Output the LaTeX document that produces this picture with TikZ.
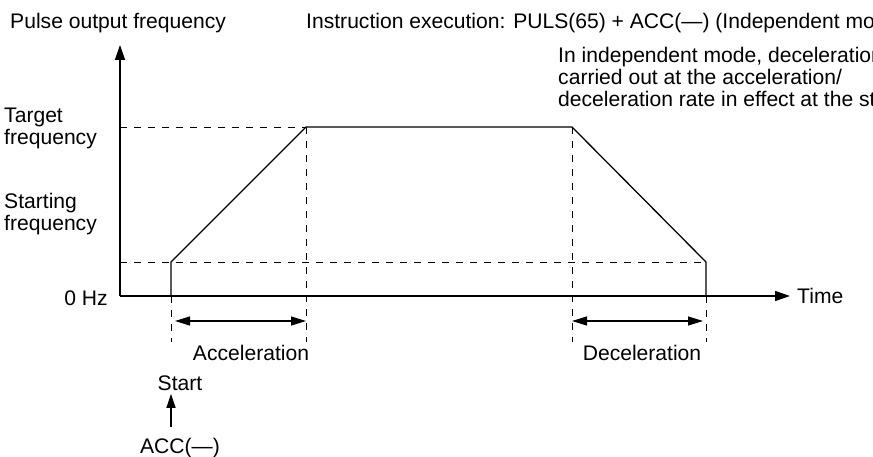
\documentclass[tikz,border=0pt]{standalone}
\usepackage{fontspec}
\setmainfont{Liberation Sans}
\usetikzlibrary{arrows.meta, positioning}

\begin{document}
\begin{tikzpicture}[
    x=0.03cm, y=-0.03cm,
    lbl/.style={font=\fontsize{18}{18.7}\selectfont, inner sep=0pt, align=left},
    axis/.style={-{Triangle[length=0.45cm, width=0.3cm]}, line width=1.3pt},
    prof/.style={line width=1.1pt},
    guide/.style={dash pattern=on 0.22cm off 0.2cm, line width=0.6pt},
    span/.style={{Triangle[length=0.45cm, width=0.27cm]}-{Triangle[length=0.45cm, width=0.27cm]}, line width=1.1pt},
    arr/.style={-{Triangle[length=0.42cm, width=0.27cm]}, line width=1.1pt}
  ]
  \useasboundingbox (0,0) rectangle (873,457);
  \clip (0,0) rectangle (873,457);

  % axes
  \coordinate (o) at (120,296);
  \coordinate (ytop) at (120,45);
  \coordinate (xend) at (790,296);
  \draw[axis] (o) -- (ytop);
  \draw[axis] (o) -- (xend);

  % speed profile
  \coordinate (p0) at (171,296);
  \coordinate (p1) at (171,262);
  \coordinate (p2) at (306,127);
  \coordinate (p3) at (572,127);
  \coordinate (p4) at (706,262);
  \coordinate (p5) at (706,296);
  \draw[prof] (p0) -- (p1) -- (p2) -- (p3) -- (p4) -- (p5);

  % guide lines
  \draw[guide] (o |- p2) -- (p2);
  \draw[guide] (o |- p1) -- (p4 |- p1);
  \coordinate (g0) at (171,342);
  \coordinate (g1) at (306,342);
  \coordinate (g2) at (572,342);
  \coordinate (g3) at (706,342);
  \draw[guide] (p0) -- (g0);
  \draw[guide] (p2) -- (g1);
  \draw[guide] (p3) -- (g2);
  \draw[guide] (p5) -- (g3);

  % spans
  \coordinate (a0) at (175,321);
  \coordinate (a1) at (306,321);
  \coordinate (d0) at (572,321);
  \coordinate (d1) at (703,321);
  \draw[span] (a0) -- (a1);
  \draw[span] (d0) -- (d1);

  % labels
  \node[lbl, anchor=base west] (yname) at (10,29) {Pulse output frequency};
  \node[lbl, anchor=base west] (instr) at (306,29) {Instruction execution: PULS(65) + ACC(—) (Independent mode)};
  \node[lbl, anchor=north west] (note) at (558,47) {In independent mode, deceleration is\\carried out at the acceleration/\\deceleration rate in effect at the start.};
  \node[lbl, anchor=north west] (target) at (4,108) {Target\\frequency};
  \node[lbl, anchor=north west] (startf) at (4,193) {Starting\\frequency};
  \node[lbl, anchor=base east] (zero) at (108,305) {0 Hz};
  \node[lbl, anchor=base west] (time) at (797,303) {Time};
  \node[lbl, anchor=base] (accel) at (251,360) {Acceleration};
  \node[lbl, anchor=base] (decel) at (642,360) {Deceleration};
  \node[lbl, anchor=base] (start) at (180,390) {Start};
  \node[lbl, anchor=base] (acc) at (180,453) {ACC(—)};

  \draw[arr, shorten <=0.3cm, shorten >=0.1cm] (acc.north -| p0) -- (start.south -| p0);
\end{tikzpicture}
\end{document}
